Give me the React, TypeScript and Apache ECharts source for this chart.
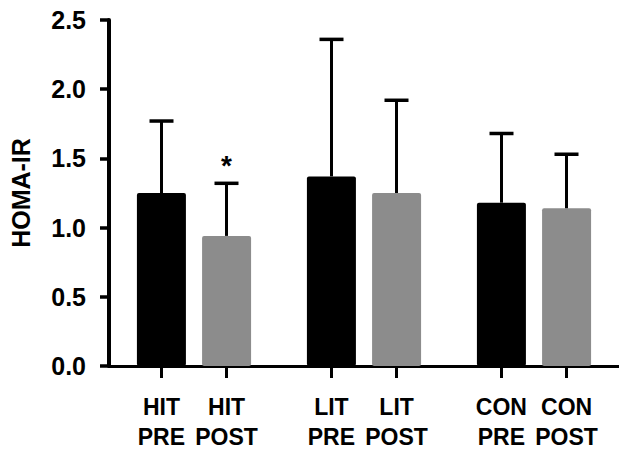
import React, { useEffect, useRef } from "react";
import * as echarts from "echarts";

const groups = ["HIT", "LIT", "CON"];
const phases = ["PRE", "POST"];
const preMeans = [1.25, 1.37, 1.18];
const preUpper = [1.77, 2.36, 1.68];
const postMeans = [0.94, 1.25, 1.14];
const postUpper = [1.32, 1.92, 1.53];
const postSignificance = ["*", "", ""];
const yTicks = [0, 0.5, 1.0, 1.5, 2.0, 2.5];

const FONT = "'Liberation Sans', Arial, Helvetica, sans-serif";
const BAR_W = 49;
const HALF_STEP = 32.5;

export default function App() {
  const ref = useRef<HTMLDivElement>(null);
  useEffect(() => {
    if (!ref.current) return;
    const chart = echarts.init(ref.current, undefined, { renderer: "svg" });

    const errorSeries = (means: number[], upper: number[], sign: number, marks: string[]) => ({
      type: "custom",
      clip: false,
      z: 5,
      data: means.map((m, i) => [i, m, upper[i]]),
      renderItem: (params: any, api: any) => {
        const idx = api.value(0);
        const top = api.coord([idx, api.value(2)]);
        const mid = api.coord([idx, api.value(1)]);
        const zero = api.coord([idx, 0]);
        const x = top[0] + sign * HALF_STEP;
        const children: any[] = [
          { type: "line", shape: { x1: x, y1: mid[1], x2: x, y2: top[1] }, style: { stroke: "#000", lineWidth: 3 } },
          { type: "line", shape: { x1: x - 12, y1: top[1], x2: x + 12, y2: top[1] }, style: { stroke: "#000", lineWidth: 3.5 } },
          { type: "line", shape: { x1: x, y1: zero[1], x2: x, y2: zero[1] + 12 }, style: { stroke: "#000", lineWidth: 3 } },
        ];
        const mk = marks[params.dataIndex];
        if (mk) {
          children.push({
            type: "text",
            style: { text: mk, x, y: top[1] - 18, align: "center", verticalAlign: "middle", font: `bold 28px ${FONT}`, fill: "#000" },
          });
        }
        return { type: "group", children };
      },
    });

    const barLabel = {
      show: true,
      position: "bottom",
      distance: 26,
      formatter: (p: any) => `${p.name}\n${p.seriesName}`,
      fontFamily: FONT,
      fontSize: 23,
      fontWeight: "bold",
      lineHeight: 30,
      color: "#000",
      align: "center",
    };

    chart.setOption({
      animation: false,
      grid: { left: 103, right: 0, top: 20, bottom: 86 },
      xAxis: {
        type: "category",
        data: groups,
        axisLine: { show: true, onZero: false, lineStyle: { color: "#000", width: 3 } },
        axisTick: { show: false },
        axisLabel: { show: false },
        splitLine: { show: false },
      },
      yAxis: {
        type: "value",
        min: 0,
        max: 2.5,
        interval: 0.5,
        name: "HOMA-IR",
        nameLocation: "middle",
        nameGap: 76,
        nameRotate: 90,
        nameTextStyle: { fontFamily: FONT, fontSize: 25, fontWeight: "bold", color: "#000" },
        axisLine: { show: true, lineStyle: { color: "#000", width: 4 } },
        axisTick: { show: true, inside: false, length: 9, lineStyle: { color: "#000", width: 3.5 } },
        axisLabel: {
          fontFamily: FONT,
          fontSize: 25,
          fontWeight: "bold",
          color: "#000",
          margin: 23,
          formatter: (v: number) => (yTicks.includes(v) ? v.toFixed(1) : ""),
        },
        splitLine: { show: false },
      },
      series: [
        {
          name: phases[0],
          type: "bar",
          data: preMeans,
          barWidth: BAR_W,
          barGap: "33%",
          itemStyle: { color: "#000", borderRadius: 2 },
          label: barLabel,
        },
        {
          name: phases[1],
          type: "bar",
          data: postMeans,
          barWidth: BAR_W,
          itemStyle: { color: "#8c8c8c", borderRadius: 2 },
          label: barLabel,
        },
        errorSeries(preMeans, preUpper, -1, ["", "", ""]),
        errorSeries(postMeans, postUpper, 1, postSignificance),
      ],
    });
    return () => chart.dispose();
  }, []);
  return <div ref={ref} style={{ position: "fixed", left: 0, top: 0, width: 619, height: 452, background: "#fff" }} />;
}
